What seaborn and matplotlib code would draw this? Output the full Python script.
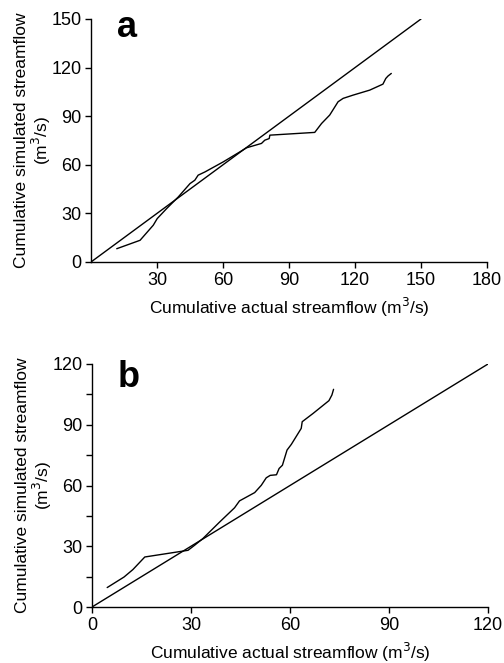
import matplotlib
matplotlib.use("Agg")
import matplotlib.pyplot as plt
import seaborn as sns
import pandas as pd

# Panel a data
a_actual = [11.7, 22.3, 28.3, 30.1, 34.4, 39.7, 45.0, 47.2, 48.7, 51.8, 60.1, 67.7, 70.7,
            77.5, 79.0, 81.0, 81.3, 101.7, 104.8, 108.5, 112.3, 114.6, 119.1, 126.7,
            132.7, 134.0, 135.0, 136.5]
a_sim = [8.2, 13.4, 22.7, 26.8, 33.0, 40.2, 48.4, 50.5, 53.6, 55.6, 61.8, 68.0, 70.5,
         73.2, 75.2, 76.2, 78.3, 80.0, 85.5, 90.7, 98.9, 101.0, 103.0, 106.1,
         109.8, 113.3, 114.8, 116.4]

# Panel b data
b_actual = [4.6, 9.7, 12.4, 16.0, 29.1, 31.1, 33.6, 38.7, 43.2, 44.7, 49.3, 51.3, 52.8,
            54.0, 55.9, 56.7, 57.7, 59.1, 60.4, 63.4, 63.7, 67.0, 71.8, 72.7, 73.2]
b_sim = [9.6, 14.8, 18.5, 24.7, 28.0, 30.5, 33.8, 42.0, 49.0, 52.4, 56.5, 60.1, 63.8,
         65.0, 65.3, 68.4, 70.0, 77.5, 80.3, 88.2, 91.5, 95.6, 101.9, 104.7, 107.5]

# 1:1 lines
a_line = [0, 150]
b_line = [0, 120]

a_xticks = [30, 60, 90, 120, 150, 180]
a_yticks = [0, 30, 60, 90, 120, 150]
b_xticks = [0, 30, 60, 90, 120]
b_yticks = [0, 30, 60, 90, 120]
b_yminor = [15, 45, 75, 105]

sns.set_theme(style="ticks")
plt.rcParams['font.family'] = ['Liberation Sans', 'DejaVu Sans']
plt.rcParams['text.color'] = 'black'
plt.rcParams['axes.labelcolor'] = 'black'

fig = plt.figure(figsize=(5.04, 6.63), dpi=100)
ax_a = fig.add_axes([91/504, 1 - 262/663, 396/504, 243/663])
ax_b = fig.add_axes([92/504, 1 - 607/663, 396/504, 243/663])

lw = 1.0
dfa = pd.DataFrame({"x": a_actual, "y": a_sim})
dfb = pd.DataFrame({"x": b_actual, "y": b_sim})

sns.lineplot(x=a_line, y=a_line, ax=ax_a, color="black", lw=lw)
sns.lineplot(data=dfa, x="x", y="y", ax=ax_a, color="black", lw=lw, sort=False, estimator=None)
sns.lineplot(x=b_line, y=b_line, ax=ax_b, color="black", lw=lw)
sns.lineplot(data=dfb, x="x", y="y", ax=ax_b, color="black", lw=lw, sort=False, estimator=None)

for ax in (ax_a, ax_b):
    sns.despine(ax=ax)
    for s in ('left', 'bottom'):
        ax.spines[s].set_linewidth(1.0)
        ax.spines[s].set_color('black')
    ax.tick_params(direction='out', length=4, width=1.0, labelsize=13, colors='black', pad=3)
    ax.set_xlabel("Cumulative actual streamflow (m$^3$/s)", fontsize=12.5, labelpad=5)
    ax.set_ylabel("Cumulative simulated streamflow\n(m$^3$/s)", fontsize=12.5, labelpad=-1,
                  linespacing=1.05)

ax_a.set_xlim(0, 180)
ax_a.set_ylim(0, 150)
ax_a.set_xticks(a_xticks)
ax_a.set_yticks(a_yticks)

ax_b.set_xlim(0, 120)
ax_b.set_ylim(0, 120)
ax_b.set_xticks(b_xticks)
ax_b.set_yticks(b_yticks)
ax_b.set_yticks(b_yminor, minor=True)
ax_b.tick_params(which='minor', direction='out', length=4, width=1.0, colors='black')

ax_a.text(0.066, 0.926, "a", transform=ax_a.transAxes, fontsize=26, fontweight='bold',
          va='baseline', ha='left')
ax_b.text(0.064, 0.905, "b", transform=ax_b.transAxes, fontsize=26, fontweight='bold',
          va='baseline', ha='left')

fig.savefig("out.png", dpi=100)
